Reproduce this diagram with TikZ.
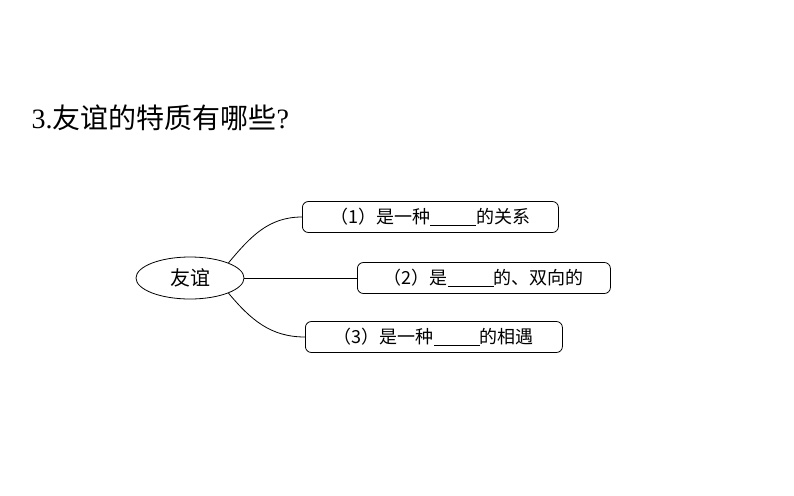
\documentclass[tikz,border=0pt]{standalone}
\usepackage{fontspec}
\usetikzlibrary{shapes.geometric}
\newfontfamily\cjk{Noto Sans CJK SC}
\setmainfont{Liberation Serif}
\newcommand{\blank}{\underline{\hspace{46pt}}}
\begin{document}
\begin{tikzpicture}[x=1pt,y=-1pt,
  box/.style={draw,thick,rounded corners=6pt,minimum height=31pt,inner xsep=4pt,anchor=west,font=\fontsize{18}{20}\selectfont\cjk},
  link/.style={thick}]
\useasboundingbox (0,0) rectangle (794,495);
\node[anchor=west,font=\fontsize{28}{32}\selectfont] (title) at (28,118) {3.{\cjk 友谊的特质有哪些}?};
\node[draw,thick,ellipse,minimum width=108pt,minimum height=42pt,font=\fontsize{20}{22}\selectfont\cjk] (f) at (190,278) {友谊};
\node[box,minimum width=256pt] (b1) at (302,217) {（1）是一种\blank 的关系};
\node[box,minimum width=253pt] (b2) at (357,278) {（2）是\blank 的、双向的};
\node[box,minimum width=257pt] (b3) at (305,337) {（3）是一种\blank 的相遇};
\draw[link] (f.north east) to[out=50,in=180] (b1.west);
\draw[link] (f.east) -- (b2.west);
\draw[link] (f.south east) to[out=-50,in=180] (b3.west);
\end{tikzpicture}
\end{document}
